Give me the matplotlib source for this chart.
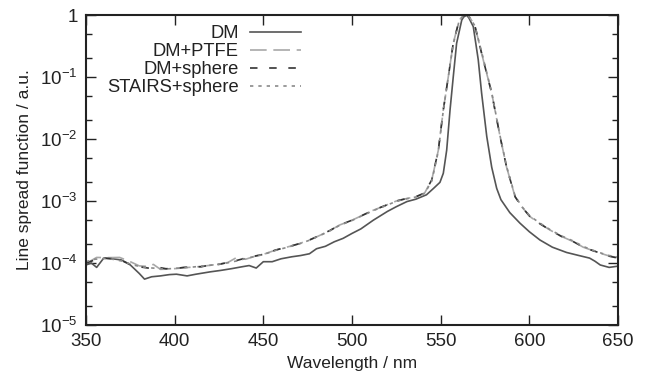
import math
import matplotlib
matplotlib.use("Agg")
import matplotlib.pyplot as plt
from matplotlib.ticker import LogLocator, FuncFormatter, FixedLocator

plt.rcParams['font.family'] = ['Liberation Sans', 'DejaVu Sans']
plt.rcParams['mathtext.fontset'] = 'custom'
plt.rcParams['mathtext.rm'] = 'Liberation Sans'
plt.rcParams['mathtext.it'] = 'Liberation Sans'
plt.rcParams['mathtext.default'] = 'regular'

# ---- data ----
wl_dm = [350, 353, 356, 360, 365, 370, 375, 380, 383, 387, 392, 397, 401, 407, 412,
         420, 426, 432, 438, 442, 446, 450, 455, 460, 466, 471, 476, 480, 485, 490,
         495, 500, 505, 512, 520, 525, 531, 536, 542, 546, 549.6, 551.5, 553.4, 555.3,
         557.1, 559, 561.9, 563, 564.7, 566, 568.4, 571.2, 573.1, 576, 578.8, 581.6,
         584, 589, 594.7, 600, 606, 613, 621, 628, 634, 637, 640, 645, 650]
lsf_dm = [9.3e-5, 1.0e-4, 8.5e-5, 1.2e-4, 1.17e-4, 1.12e-4, 9.3e-5, 6.8e-5, 5.5e-5,
          6.0e-5, 6.2e-5, 6.5e-5, 6.6e-5, 6.2e-5, 6.6e-5, 7.2e-5, 7.6e-5, 8.1e-5,
          8.7e-5, 9.1e-5, 8.3e-5, 1.05e-4, 1.05e-4, 1.17e-4, 1.26e-4, 1.32e-4, 1.41e-4,
          1.7e-4, 1.86e-4, 2.2e-4, 2.5e-4, 3.0e-4, 3.55e-4, 4.9e-4, 6.8e-4, 8.1e-4,
          9.8e-4, 1.07e-3, 1.26e-3, 1.6e-3, 2.0e-3, 2.8e-3, 6.6e-3, 2.95e-2, 0.1, 0.35,
          0.83, 0.93, 1.0, 0.89, 0.65, 0.19, 5.5e-2, 1.1e-2, 3.5e-3, 1.6e-3, 1.05e-3,
          6.5e-4, 4.4e-4, 3.2e-4, 2.35e-4, 1.8e-4, 1.48e-4, 1.32e-4, 1.2e-4, 1.07e-4,
          9.3e-5, 8.5e-5, 8.9e-5]

wl_ptfe = [350, 356, 362, 369, 375, 380, 385, 388, 392, 397, 402, 408, 415, 420, 425,
           430, 435, 440, 445, 450, 457, 465, 470, 476, 482, 488, 493, 500, 506, 512,
           519, 525, 531, 536, 541, 545, 548.7, 551.5, 554.3, 557.1, 560.5, 562.5,
           564.5, 566.5, 569.4, 574, 578.8, 583.5, 587.2, 592, 596, 600.4, 606, 611.7,
           618, 625, 630.4, 636, 641, 645, 650]
lsf_ptfe = [9.8e-5, 1.23e-4, 1.22e-4, 1.23e-4, 1.05e-4, 9.0e-5, 8.8e-5, 9.5e-5, 7.9e-5,
            8.0e-5, 8.2e-5, 8.5e-5, 8.8e-5, 9.2e-5, 9.6e-5, 1.02e-4, 1.23e-4, 1.15e-4,
            1.28e-4, 1.38e-4, 1.62e-4, 1.86e-4, 2.04e-4, 2.35e-4, 2.8e-4, 3.4e-4,
            4.1e-4, 4.9e-4, 5.9e-4, 7.1e-4, 8.5e-4, 1.0e-3, 1.1e-3, 1.17e-3, 1.35e-3,
            2.2e-3, 6.6e-3, 2.95e-2, 0.1, 0.35, 0.83, 0.95, 1.0, 0.91, 0.65, 0.19,
            5.5e-2, 1.1e-2, 3.5e-3, 1.17e-3, 7.9e-4, 5.6e-4, 4.3e-4, 3.4e-4, 2.7e-4,
            2.2e-4, 1.8e-4, 1.58e-4, 1.41e-4, 1.3e-4, 1.22e-4]

wl_sph = [350, 355, 360, 365, 370, 375, 380, 385, 390, 395, 400, 405, 410, 415, 420,
          425, 430, 435, 440, 445, 450, 457, 465, 470, 476, 482, 488, 493, 500, 506,
          512, 519, 525, 531, 536, 541, 545, 548.7, 551.5, 554.3, 557.1, 560.5, 562.5,
          564.5, 566.5, 569.4, 574, 578.8, 583.5, 587.2, 592, 596, 600.4, 606, 611.7,
          618, 625, 630.4, 636, 641, 645, 650]
lsf_sph = [1.0e-4, 1.12e-4, 1.2e-4, 1.17e-4, 1.1e-4, 9.5e-5, 8.7e-5, 8.3e-5, 8.6e-5,
           8.1e-5, 8.1e-5, 8.5e-5, 8.7e-5, 8.7e-5, 9.3e-5, 9.5e-5, 1.02e-4, 1.1e-4,
           1.2e-4, 1.29e-4, 1.38e-4, 1.62e-4, 1.86e-4, 2.04e-4, 2.35e-4, 2.8e-4,
           3.4e-4, 4.1e-4, 4.9e-4, 5.9e-4, 7.1e-4, 8.5e-4, 1.0e-3, 1.1e-3, 1.17e-3,
           1.35e-3, 2.2e-3, 6.6e-3, 2.95e-2, 0.1, 0.35, 0.83, 0.95, 1.0, 0.91, 0.65,
           0.19, 5.5e-2, 1.1e-2, 3.5e-3, 1.17e-3, 7.9e-4, 5.6e-4, 4.3e-4, 3.4e-4,
           2.7e-4, 2.2e-4, 1.8e-4, 1.58e-4, 1.41e-4, 1.29e-4, 1.2e-4]

wl_stairs = [350, 355, 360, 365, 370, 375, 380, 385, 390, 395, 400, 405, 410, 415, 420,
             425, 430, 435, 440, 445, 450, 457, 465, 470, 476, 482, 488, 493, 500, 506,
             512, 519, 525, 531, 536, 541, 545, 548.7, 551.5, 554.3, 557.1, 560.5,
             562.5, 564.5, 566.5, 569.4, 574, 578.8, 583.5, 587.2, 592, 596, 600.4,
             606, 611.7, 618, 625, 630.4, 636, 641, 645, 650]
lsf_stairs = [1.05e-4, 1.15e-4, 1.18e-4, 1.15e-4, 1.08e-4, 9.6e-5, 8.8e-5, 8.4e-5,
              8.2e-5, 8.0e-5, 8.2e-5, 8.4e-5, 8.6e-5, 8.9e-5, 9.2e-5, 9.6e-5, 1.01e-4,
              1.08e-4, 1.18e-4, 1.27e-4, 1.37e-4, 1.6e-4, 1.84e-4, 2.02e-4, 2.33e-4,
              2.78e-4, 3.35e-4, 4.05e-4, 4.85e-4, 5.85e-4, 7.0e-4, 8.4e-4, 9.9e-4,
              1.09e-3, 1.16e-3, 1.33e-3, 2.1e-3, 6.4e-3, 2.9e-2, 0.1, 0.34, 0.82, 0.95,
              1.0, 0.91, 0.66, 0.2, 5.6e-2, 1.12e-2, 3.6e-3, 1.2e-3, 8.0e-4, 5.7e-4,
              4.4e-4, 3.45e-4, 2.75e-4, 2.25e-4, 1.85e-4, 1.6e-4, 1.43e-4, 1.32e-4,
              1.25e-4]

labels = ["DM", "DM+PTFE", "DM+sphere", "STAIRS+sphere"]
x_ticks = [350, 400, 450, 500, 550, 600, 650]
y_ticks = [1e-5, 1e-4, 1e-3, 1e-2, 1e-1, 1]

fig = plt.figure(figsize=(6.49, 3.84), dpi=100)
ax = fig.add_axes([0.1325, 0.1536, 0.8197, 0.8073])

lw = 1.2
ax.plot(wl_dm, lsf_dm, color='#555555', lw=lw, label=labels[0])
ax.plot(wl_ptfe, lsf_ptfe, color='#a8a8a8', lw=lw, dashes=(10, 4), label=labels[1])
ax.plot(wl_sph, lsf_sph, color='#333333', lw=lw, dashes=(4.5, 7), label=labels[2])
ax.plot(wl_stairs, lsf_stairs, color='#8a8a8a', lw=lw, dashes=(2, 3), label=labels[3])

ax.set_yscale('log')
ax.set_xlim(350, 650)
ax.set_ylim(1e-5, 1)
ax.xaxis.set_major_locator(FixedLocator(x_ticks))
ax.yaxis.set_major_locator(FixedLocator(y_ticks))
ax.yaxis.set_minor_locator(LogLocator(base=10, subs=(2.0, 5.0), numticks=20))

def yfmt(v, pos):
    if abs(v - 1) < 1e-9:
        return "1"
    e = int(round(math.log10(v)))
    return r"$10^{%d}$" % e
ax.yaxis.set_major_formatter(FuncFormatter(yfmt))
ax.yaxis.set_minor_formatter(FuncFormatter(lambda v, p: ""))

fs_tick = 13.5
fs_label = 12.5
fs_leg = 13.2
ax.tick_params(which='both', direction='in', top=True, right=True, labelsize=fs_tick,
               color='#222222', labelcolor='#222222')
ax.tick_params(which='major', length=7, width=1.0, pad=6)
ax.tick_params(which='minor', length=4, width=1.0)
for s in ax.spines.values():
    s.set_linewidth(1.5)
    s.set_color('#222222')

ax.set_xlabel("Wavelength / nm", fontsize=fs_label, color='#222222', labelpad=4)
ax.set_ylabel("Line spread function / a.u.", fontsize=fs_label, color='#222222',
              labelpad=6)

leg = ax.legend(loc='upper right', bbox_to_anchor=(0.404, 0.968), frameon=False,
                markerfirst=False, fontsize=fs_leg, handlelength=2.75,
                handletextpad=0.65, labelspacing=0.06, borderaxespad=0.0,
                borderpad=0.0)
for t in leg.get_texts():
    t.set_ha('right')
    t.set_color('#222222')

fig.savefig("out.png", dpi=100)
